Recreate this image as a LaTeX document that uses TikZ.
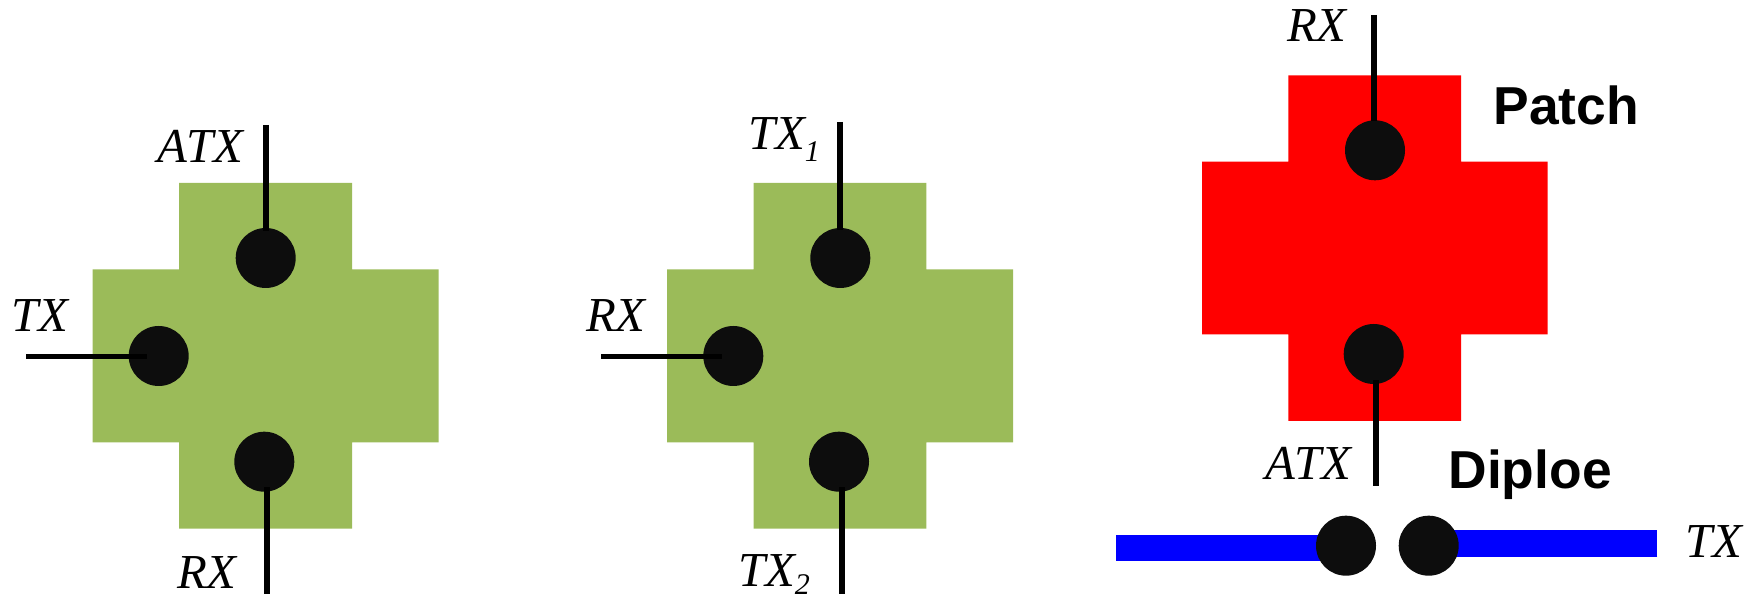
\documentclass[tikz,border=0pt]{standalone}
\usepackage{fontspec}
\setmainfont{Liberation Serif}[Kerning=Off]
\newfontfamily\headfont{Liberation Sans}
\definecolor{patchgreen}{HTML}{9BBB59}
\definecolor{portblack}{HTML}{0D0D0D}
\newcommand{\subidx}[2]{\raisebox{#1}{\fontsize{15}{15}\selectfont #2}}

\begin{document}
\begin{tikzpicture}[
  x=0.5pt, y=-0.5pt,
  patch/.style={fill=#1, draw=none},
  port/.style={circle, fill=portblack, inner sep=0pt, outer sep=0pt,
               minimum size=30pt},
  wire/.style={line width=3pt, black},
  thinwire/.style={line width=2.4pt, black},
  bar/.style={line width=13.4pt, blue},
  lbl/.style={anchor=base west, inner sep=0pt, outer sep=0pt,
              font=\fontsize{24.4}{24.4}\selectfont\itshape},
  head/.style={anchor=base west, inner sep=0pt, outer sep=0pt,
               font=\fontsize{26.7}{26.7}\selectfont\headfont\bfseries}]
\useasboundingbox (0,0) rectangle (1760,597);
% first patch
\fill[patch=patchgreen] (179,183) -- (352,183) -- (352,269.5) -- (438.7,269.5)
  -- (438.7,442.3) -- (352,442.3) -- (352,528.7) -- (179,528.7) -- (179,442.3)
  -- (92.7,442.3) -- (92.7,269.5) -- (179,269.5) -- cycle;
\node[port] (atxa) at (265.7,258) {};
\node[port] (txa) at (158.7,356) {};
\node[port] (rxa) at (264.3,461.7) {};
\coordinate (atxaend) at (266,125);
\coordinate (txaend) at (26.3,356.7);
\coordinate (rxaend) at (267,593.7);
\draw[wire, shorten >=-1.35pt] (atxaend) -- (atxaend |- atxa.north);
\draw[thinwire, shorten >=-9.2pt] (txaend) -- (txaend -| txa.west);
\draw[wire, shorten >=-2.4pt] (rxaend) -- (rxaend |- rxa.south);
\node[lbl] (atxalbl) at (157,162.7) {ATX};
\node[lbl] (txalbl) at (11,331.7) {TX};
\node[lbl] (rxalbl) at (177,588.7) {RX};
% second patch
\fill[patch=patchgreen] (753.7,183) -- (926.3,183) -- (926.3,269.5) -- (1013,269.5)
  -- (1013,442.3) -- (926.3,442.3) -- (926.3,528.7) -- (753.7,528.7) -- (753.7,442.3)
  -- (667,442.3) -- (667,269.5) -- (753.7,269.5) -- cycle;
\node[port] (txb) at (840.3,258) {};
\node[port] (rxb) at (733.3,356) {};
\node[port] (txc) at (839,461.7) {};
\coordinate (txbend) at (840,122);
\coordinate (rxbend) at (601,356.7);
\coordinate (txcend) at (842,593.7);
\draw[wire, shorten >=-1pt] (txbend) -- (txbend |- txb.north);
\draw[thinwire, shorten >=-9.2pt] (rxbend) -- (rxbend -| rxb.west);
\draw[wire, shorten >=-2.4pt] (txcend) -- (txcend |- txc.south);
\node[lbl] (txblbl) at (748,150) {TX\subidx{-5.9pt}{1}};
\node[lbl] (rxblbl) at (586,331.7) {RX};
\node[lbl] (txclbl) at (738,586.7) {TX\subidx{-4pt}{2}};
% patch and dipole
\fill[patch=red] (1288.3,75.3) -- (1461,75.3) -- (1461,161.7) -- (1547.7,161.7)
  -- (1547.7,334.3) -- (1461,334.3) -- (1461,421) -- (1288.3,421) -- (1288.3,334.3)
  -- (1202,334.3) -- (1202,161.7) -- (1288.3,161.7) -- cycle;
\coordinate (barla) at (1116,548);
\coordinate (barlb) at (1346,548);
\coordinate (barra) at (1657.3,543.8);
\coordinate (barrb) at (1428.7,543.8);
\draw[bar] (barla) -- (barlb);
\draw[bar] (barra) -- (barrb);
\node[port] (rxd) at (1375,150.3) {};
\node[port] (atxd) at (1373.7,354) {};
\node[port] (dipl) at (1346,545.7) {};
\node[port] (dipr) at (1428.7,545.7) {};
\coordinate (rxdend) at (1374,15);
\coordinate (atxdend) at (1376,486);
\draw[wire, shorten >=-0.2pt] (rxdend) -- (rxdend |- rxd.north);
\draw[wire, shorten >=-2pt] (atxdend) -- (atxdend |- atxd.south);
\node[lbl] (rxdlbl) at (1287,41.7) {RX};
\node[lbl] (atxdlbl) at (1265,479.3) {ATX};
\node[lbl] (txdlbl) at (1685,557.3) {TX};
\node[head] (patchlbl) at (1493.5,125) {Patch};
\node[head] (diplbl) at (1448.5,488.3) {Diploe};
\end{tikzpicture}
\end{document}
